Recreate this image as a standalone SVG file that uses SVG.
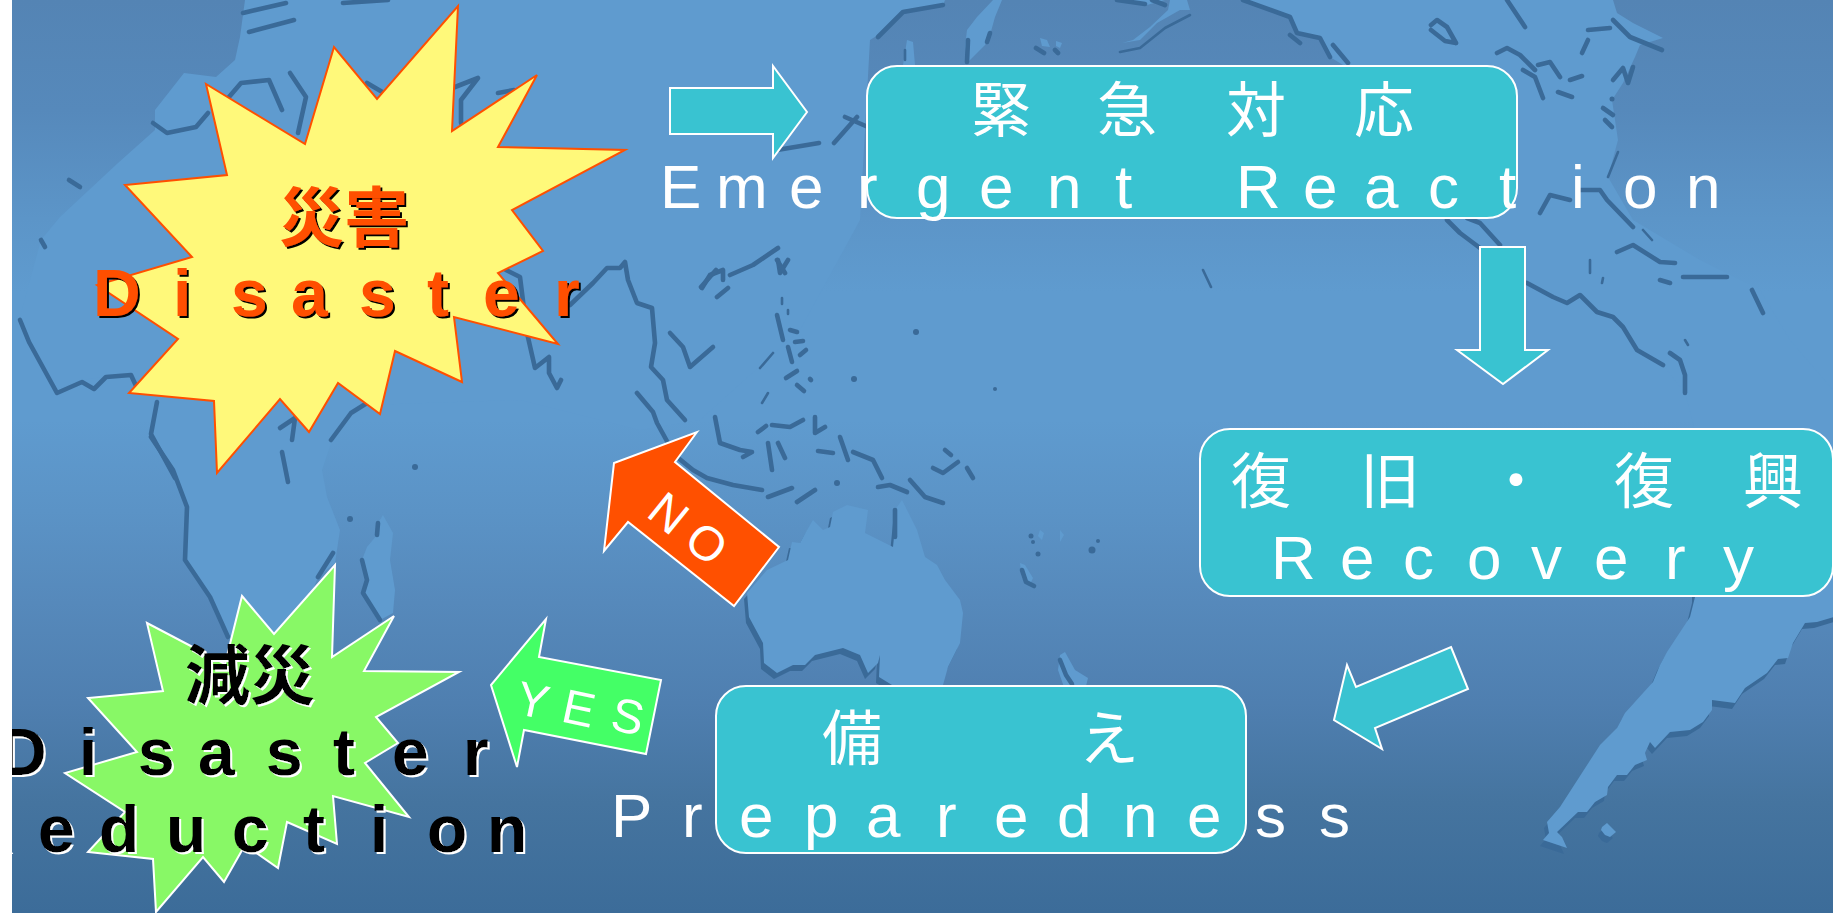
<svg xmlns="http://www.w3.org/2000/svg" width="1833" height="913" viewBox="0 0 1833 913">
<defs>
<linearGradient id="sea" x1="0" y1="0" x2="0" y2="1">
<stop offset="0" stop-color="#5484b4"/><stop offset="0.12" stop-color="#5689bb"/><stop offset="0.24" stop-color="#5c95c8"/><stop offset="0.32" stop-color="#5f9bcf"/><stop offset="0.46" stop-color="#5f9bcf"/><stop offset="0.56" stop-color="#5b93c6"/><stop offset="0.66" stop-color="#5689bb"/><stop offset="0.77" stop-color="#4f7fb0"/><stop offset="0.88" stop-color="#45749f"/><stop offset="1" stop-color="#3c6c99"/>
</linearGradient>
<path id="oz" d="M747,593 749,617 763,643 764,663 777,673 793,665 805,665 815,655 843,648 860,655 868,673 878,663 880,655 879,677 892,685 892,700 943,700 943,685 948,667 960,643 963,613 960,600 945,580 937,565 925,557 917,530 902,500 897,507 893,547 865,533 868,510 847,505 833,512 830,527 823,530 813,520 807,530 800,543 792,542 788,560 767,570Z"/>
<path id="sam" d="M1695,590 1695,597 1690,617 1667,652 1660,665 1653,682 1625,713 1617,728 1600,745 1560,807 1547,822 1549,833 1543,840 1567,848 1562,837 1557,832 1578,812 1587,812 1595,802 1607,795 1608,787 1617,775 1627,775 1635,765 1647,760 1645,753 1650,742 1655,748 1670,732 1690,730 1703,722 1712,710 1712,700 1735,703 1745,688 1767,673 1778,659 1788,658 1793,643 1805,623 1817,622 1840,615 1840,590Z"/>
<path id="falk" d="M1602,827 1607,823 1616,832 1610,837 1605,835 1601,830Z"/>
<style>
.land{fill:#5f9bcf}
.shade{fill:#3a6a98}
.coast{fill:none;stroke:#3a6a98;stroke-width:4.6;stroke-linejoin:round;stroke-linecap:round}
.thin{stroke-width:2.6}
.dot{fill:#3a6a98}
.box{fill:#39c3d1;stroke:#fff;stroke-width:2}
.ar{fill:#39c3d1;stroke:#fff;stroke-width:2}
.lat{font-family:"Liberation Sans",Arial,sans-serif;font-size:62px;fill:#fff}
.cjk{font-family:"Noto Sans CJK JP","Noto Sans",sans-serif;font-size:60px;fill:#fff}
.hd{font-family:"Liberation Sans",Arial,sans-serif;font-size:66px;font-weight:bold}
.hdj{font-family:"Noto Sans CJK JP","Noto Sans",sans-serif;font-size:65px;font-weight:bold}
.or{fill:#ff5000;filter:url(#blk)}
.bk{fill:#000;filter:url(#wht)}
.tag{font-family:"Liberation Sans",Arial,sans-serif;font-size:48px;fill:#fff;text-anchor:middle}
</style>
<filter id="blk" x="-5%" y="-5%" width="110%" height="110%"><feDropShadow dx="2" dy="2" stdDeviation="0" flood-color="#000"/></filter>
<filter id="wht" x="-5%" y="-5%" width="110%" height="110%"><feDropShadow dx="2" dy="2" stdDeviation="0" flood-color="#fff"/></filter>
</defs>
<rect width="1833" height="913" fill="url(#sea)"/>
<g id="map">
<use href="#oz" class="shade" transform="translate(-3,6)"/>
<use href="#sam" class="shade" transform="translate(-3,6)"/>
<use href="#falk" class="shade" transform="translate(-3,6)"/>
<path class="land" d="M245,0 240,37 235,60 216,77 184,73 155,110 155,130 118,163 60,217 41,240 20,317 28,340 53,390 82,380 102,377 130,373 159,400 151,437 173,470 187,507 183,560 210,597 228,637 270,700 318,577 335,563 340,530 327,497 322,470 332,440 350,413 365,405 520,400 640,430 700,420 800,330 860,220 870,40 878,35 903,10 943,5 945,0Z"/>
<path class="land" d="M383,515 393,533 390,560 395,590 393,613 380,620 363,593 368,580 362,560 367,547 377,535 378,523Z"/>
<path class="land" d="M1243,0 1290,17 1297,33 1320,38 1330,57 1400,100 1447,220 1480,247 1527,283 1567,303 1580,295 1607,315 1620,320 1637,350 1663,365 1685,393 1695,430 1695,597 1833,615 1833,390 1790,340 1760,290 1700,260 1633,220 1608,177 1618,140 1612,100 1623,83 1635,57 1640,45 1663,38 1633,23 1617,13 1613,0Z"/>
<path class="land" d="M965,47 967,30 977,17 993,0 1002,0 995,17 990,35 985,45 967,63Z"/>
<path class="land" d="M1122,43 1140,40 1157,23 1180,10 1190,10 1187,0 1170,0 1168,10 1150,27 1133,40Z"/>
<path class="land" d="M1117,0 1147,5 1165,0Z"/>
<path class="land" d="M903,65 907,40 913,42 915,65Z"/>
<path class="land" d="M1040,38 1047,40 1050,47 1042,46Z M1056,41 1062,43 1060,48 1056,46Z"/>
<path class="land" d="M1060,655 1065,652 1075,670 1088,678 1085,690 1065,690 1058,670Z M1020,563 1025,565 1033,578 1030,584 1022,578Z M1040,530 1044,533 1042,540 1038,536Z M1060,530 1064,535 1060,542Z"/>
<use href="#oz" class="land"/><use href="#sam" class="land"/><use href="#falk" class="land"/>
<path class="coast" d="M20,320 29,342 57,393 82,382 94,389 106,377 131,375 137,388"/>
<path class="coast" d="M157,402 151,434 175,478"/>
<path class="coast" d="M151,437 173,470 187,507 185,560 210,597 228,637"/>
<path class="coast" d="M153,123 167,133 196,127 208,113"/>
<path class="coast" d="M229,97 241,83 269,80 282,110"/>
<path class="coast" d="M290,73 306,97 298,133"/>
<path class="coast" d="M243,13 286,3 M249,32 294,20 M343,3 388,0"/>
<path class="coast" d="M367,83 384,93 M455,87 478,78 461,100 461,123 M498,93 514,90"/>
<path class="coast" d="M69,180 80,187 M41,240 45,247"/>
<path class="coast" d="M280,428 295,418 292,440 M282,452 288,482"/>
<path class="coast" d="M331,440 351,413 367,403 M318,577 333,553"/>
<path class="coast" d="M362,560 367,580 363,593 380,620 M378,523 377,535"/>
<circle class="dot" cx="350" cy="519" r="3"/><circle class="dot" cx="415" cy="467" r="3"/>
<path class="coast" d="M506,270 520,277 527,333 535,368 549,357 549,373 557,388 561,380"/>
<path class="coast" d="M570,305 593,283 607,268 620,268 625,262 628,280 637,303 652,308 655,343 651,367 663,380 667,400 685,420"/>
<path class="coast" d="M670,333 683,347 690,367 713,347"/>
<path class="coast" d="M702,288 710,275 723,270 723,280 M730,275 753,265 778,248 M717,297 728,288 M778,260 780,273 788,260"/>
<path class="coast" d="M701,287 716,270 M845,117 868,127 M777,150 819,143 M834,143 857,117 M777,260 785,273"/>
<path class="coast" d="M637,393 653,412 657,423 668,443 M677,457 693,470 707,478 733,485 762,490"/>
<path class="coast" d="M715,417 720,443 740,450 752,452 743,457"/>
<path class="coast" d="M777,315 783,340 M788,347 792,362 M790,330 797,332 M795,342 803,341 M800,355 806,350 M786,378 797,371 M797,385 804,391 M810,379 811,380"/>
<path class="coast thin" d="M760,368 773,353 M762,403 768,393 M782,298 782,304 M788,310 788,314"/>
<path class="coast" d="M758,432 766,426 M772,425 790,427 803,420 M768,443 772,470 M778,443 785,458 M815,417 815,433 825,427"/>
<path class="coast" d="M840,437 848,460 M818,451 833,453 M853,452 873,460 882,478 M878,487 890,485 907,492 M910,480 925,497 943,503 M933,468 943,473 958,462 M967,468 973,478 M945,450 951,455"/>
<path class="coast" d="M768,497 792,488 M797,502 815,490 M895,510 895,537"/>
<circle class="dot" cx="916" cy="332" r="3"/><circle class="dot" cx="854" cy="379" r="3"/><circle class="dot" cx="995" cy="389" r="2"/><circle class="dot" cx="837" cy="483" r="3"/>
<path class="coast" d="M1022,570 1026,582 1034,586 M1060,660 1066,675 1072,684"/>
<circle class="dot" cx="1031" cy="536" r="2.5"/><circle class="dot" cx="1033" cy="542" r="2"/><circle class="dot" cx="1038" cy="554" r="2.5"/><circle class="dot" cx="1092" cy="550" r="3.5"/><circle class="dot" cx="1098" cy="541" r="2"/>
<path class="coast" d="M878,37 903,12 943,5 M967,62 968,40 M987,42 990,33"/>
<path class="coast thin" d="M905,60 905,50 M1120,52 1140,48 1165,28 1190,15"/>
<path class="coast" d="M1036,48 1044,53 M1055,50 1058,53 M1117,0 1145,4 M1152,0 1165,5"/>
<path class="coast" d="M1243,0 1290,17 1297,33 1320,38 1330,57 M1290,35 1300,43 M1333,45 1348,63"/>
<path class="coast" d="M1431,25 1437,20 1447,27 1456,43 M1431,30 1445,41 1456,43 M1507,0 1525,27"/>
<path class="coast" d="M1497,53 1507,48 1520,55 1535,70 M1523,70 1535,77 1543,98 M1538,65 1550,62 1560,77 M1570,80 1582,76 M1558,92 1572,97"/>
<path class="coast" d="M1588,30 1610,28 M1613,20 1630,37 1662,50 M1582,53 1588,40 M1613,80 1623,68 1628,83 1633,67 M1603,108 1613,115 M1605,120 1612,127"/>
<circle class="dot" cx="1612" cy="99" r="2.5"/>
<path class="coast thin" d="M1618,152 1608,177 M1590,260 1590,273 M1603,278 1602,283 M1643,230 1652,240 M1203,270 1211,287 M1685,340 1688,345"/>
<path class="coast" d="M1540,213 1550,195 1570,200 M1580,190 1600,190 1607,200 1633,227 M1617,252 1633,245 1660,262 1675,263 M1660,280 1670,283 M1683,277 1727,277 M1752,290 1763,313"/>
<path class="coast" d="M1447,220 1460,233 1480,248 M1467,218 1480,223 1500,245 M1527,283 1553,297 1567,303 1580,295 1597,312 1613,317 1623,327 1637,350 1663,365 M1670,353 1680,360 1685,375 1685,393"/>
</g>
<g id="connectors">
<polygon id="arrow-right" class="ar" points="670,88 773,88 773,66 807,112 773,158 773,134 670,134"/>
<polygon id="arrow-down" class="ar" points="1480,247 1525,247 1525,350 1548,350 1503,384 1457,350 1480,350"/>
<polygon id="arrow-left" class="ar" points="1451,647 1468,689 1375,728 1382,749 1334,720 1347,665 1356,687"/>
</g>
<g id="node-disaster">
<polygon fill="#fff97a" stroke="#ff5000" stroke-width="2" points="458,6 452,131 537,75 498,147 625,150 512,210 543,251 498,273 558,344 454,317 462,382 395,351 380,414 338,383 309,432 280,399 217,473 214,401 129,393 178,339 97,285 192,257 125,185 227,175 206,84 305,144 334,47 377,99"/>
<text class="hdj or" x="279" y="241">災害</text>
<text class="hd or" x="93 173 231 291 359 427 483 554" y="316">Disaster</text>
</g>
<g id="node-emergent">
<rect class="box" x="867" y="66" width="650" height="152" rx="30"/>
<text class="cjk" x="971 1097 1226 1354" y="132">緊急対応</text>
<text class="lat" x="660 716 789 857 916 979 1047 1115 1180 1236 1303 1364 1428 1499 1571 1623 1686" y="208">Emergent Reaction</text>
</g>
<g id="node-recovery">
<rect class="box" x="1200" y="429" width="633" height="167" rx="30"/>
<text class="cjk" x="1231 1360 1486 1614 1743" y="503">復旧・復興</text>
<text class="lat" x="1271 1340 1403 1467 1531 1594 1665 1723" y="579">Recovery</text>
</g>
<g id="node-preparedness">
<rect class="box" x="716" y="686" width="530" height="167" rx="30"/>
<text class="cjk" x="822 1079" y="760">備え</text>
<text class="lat" x="611 682 739 804 866 936 994 1057 1123 1187 1255 1319" y="837">Preparedness</text>
</g>
<g id="node-no">
<polygon fill="#ff5000" stroke="#fff" stroke-width="2" points="697,432 675,462 779,547 734,606 628,522 604,551 614,463"/>
<text class="tag" x="669" y="530" transform="rotate(39 669 513)">N</text>
<text class="tag" x="707" y="560" transform="rotate(39 707 543)">O</text>
</g>
<g id="node-yes">
<polygon fill="#44ff66" stroke="#fff" stroke-width="2" points="546,619 539,657 661,680 646,754 524,730 517,767 491,685"/>
<text class="tag" x="533" y="717" transform="rotate(12 533 700)">Y</text>
<text class="tag" x="579" y="725" transform="rotate(12 579 708)">E</text>
<text class="tag" x="628" y="733" transform="rotate(12 628 716)">S</text>
</g>
<g id="node-reduction">
<polygon fill="#88f866" stroke="#fff" stroke-width="2" points="335,565 332,657 394,616 364,671 459,672 376,717 398,743 365,763 409,817 333,796 337,844 287,822 278,868 245,845 224,882 203,857 156,912 153,859 88,852 125,812 65,773 137,752 88,698 163,691 147,623 225,664 242,596 274,634"/>
<text class="hdj bk" x="185" y="699">減災</text>
<text class="hd bk" x="-1 79 138 198 266 333 392 463" y="775">Disaster</text>
<text class="hd bk" x="-35 38 99 166 232 303 370 427 487" y="852">Reduction</text>
</g>
<rect id="margin" x="0" y="0" width="12" height="913" fill="#fff"/>
</svg>
